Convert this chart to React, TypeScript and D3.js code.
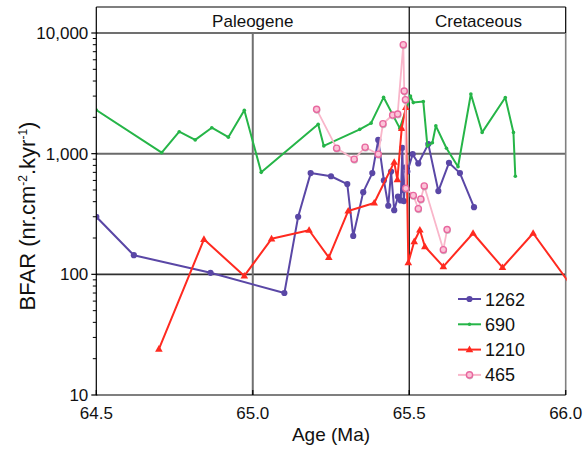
import * as d3 from "d3";

// Site 1262
const ages1262 = [64.5, 64.62, 64.865, 65.101, 65.145, 65.185, 65.25, 65.302, 65.321, 65.353, 65.382, 65.401, 65.419, 65.433, 65.442, 65.452, 65.464, 65.473, 65.478, 65.481, 65.483, 65.489, 65.494, 65.511, 65.529, 65.561, 65.593, 65.627, 65.662, 65.707];
const bfar1262 = [300, 144, 103, 70, 300, 690, 650, 560, 208, 480, 690, 1300, 600, 370, 710, 340, 440, 410, 1120, 500, 405, 770, 710, 990, 830, 1200, 490, 840, 690, 360];

// Site 690
const ages690 = [64.5, 64.709, 64.765, 64.816, 64.869, 64.922, 64.973, 65.027, 65.209, 65.227, 65.342, 65.378, 65.418, 65.47, 65.504, 65.513, 65.545, 65.558, 65.574, 65.585, 65.619, 65.656, 65.697, 65.733, 65.807, 65.833, 65.839];
const bfar690 = [2300, 1020, 1520, 1300, 1640, 1370, 2290, 700, 1750, 1160, 1590, 1790, 2930, 1620, 3000, 2650, 2700, 1160, 1230, 1700, 1110, 780, 3120, 1500, 2920, 1500, 650];

// Site 1210
const ages1210 = [64.7, 64.844, 64.973, 65.06, 65.18, 65.243, 65.305, 65.388, 65.452, 65.462, 65.476, 65.489, 65.497, 65.516, 65.534, 65.55, 65.609, 65.704, 65.798, 65.896, 66.02];
const bfar1210 = [24, 195, 97, 197, 232, 138, 335, 390, 850, 610, 1620, 2420, 125, 187, 233, 170, 116, 219, 114, 219, 79];

// Site 465
const ages465 = [65.204, 65.268, 65.324, 65.359, 65.401, 65.416, 65.447, 65.463, 65.481, 65.484, 65.488, 65.489, 65.513, 65.529, 65.537, 65.548, 65.609, 65.621];
const bfar465 = [2330, 1110, 900, 1130, 990, 1770, 2090, 2130, 8000, 3300, 2800, 516, 450, 350, 420, 540, 160, 235];

const xTicks = [64.5, 65.0, 65.5, 66.0];
const yMajors = [10, 100, 1000, 10000];
const periods = [
  { name: "Paleogene", from: 64.5, to: 65.5 },
  { name: "Cretaceous", from: 65.5, to: 66.0 },
];

const series = [
  { name: "1262", ages: ages1262, vals: bfar1262, color: "#5a47a6", marker: "dot" },
  { name: "690", ages: ages690, vals: bfar690, color: "#26b548", marker: "small" },
  { name: "1210", ages: ages1210, vals: bfar1210, color: "#ff2a20", marker: "tri" },
  { name: "465", ages: ages465, vals: bfar465, color: "#f9b6ca", marker: "ring" },
];

const W = 586;
const H = 454;
const left = 96.3;
const right = 565.7;
const top = 33;
const bottom = 395;
const headTop = 7;

function Marker({ kind, x, y, color }) {
  if (kind === "dot") return <circle cx={x} cy={y} r={3.1} fill={color} />;
  if (kind === "small") return <circle cx={x} cy={y} r={1.8} fill={color} />;
  if (kind === "tri")
    return <path d={`M${x},${y - 4}L${x + 3.8},${y + 2.6}L${x - 3.8},${y + 2.6}Z`} fill={color} />;
  return (
    <g>
      <circle cx={x + 0.4} cy={y + 1.2} r={3.3} fill="#9a9a9a" opacity={0.55} />
      <circle cx={x} cy={y} r={3.1} fill="#fbc4d8" stroke="#e8679f" strokeWidth={1.4} />
    </g>
  );
}

export default function App() {
  const x = d3.scaleLinear().domain([64.5, 66.0]).range([left, right]);
  const y = d3.scaleLog().domain([10, 10000]).range([bottom, top]);
  const line = d3
    .line<[number, number]>()
    .x((d) => x(d[0]))
    .y((d) => y(d[1]));
  const fmt = d3.format(",");
  const minor = y.ticks().filter((v) => !yMajors.includes(v));
  const font = "Liberation Sans, Arial, Helvetica, sans-serif";

  return (
    <svg
      width={W}
      height={H}
      style={{ position: "absolute", left: 0, top: 0, background: "#fff" }}
      fontFamily={font}
    >
      <defs>
        <clipPath id="plot">
          <rect x={left} y={top} width={right - left + 1} height={bottom - top} />
        </clipPath>
      </defs>

      {/* grid */}
      <line x1={left} x2={right} y1={y(10000)} y2={y(10000)} stroke="#707070" strokeWidth={2} />
      <line x1={left} x2={right} y1={y(1000)} y2={y(1000)} stroke="#6a6a6a" strokeWidth={2} />
      <line x1={left} x2={right} y1={y(100)} y2={y(100)} stroke="#303030" strokeWidth={1.6} />
      <line x1={x(65.0)} x2={x(65.0)} y1={top} y2={bottom} stroke="#707070" strokeWidth={2} />
      <line x1={right} x2={right} y1={top} y2={bottom} stroke="#808080" strokeWidth={1.6} />

      {/* header band */}
      <line x1={left} x2={right} y1={headTop} y2={headTop} stroke="#000" strokeWidth={1.2} />
      <line x1={right} x2={right} y1={headTop} y2={top} stroke="#000" strokeWidth={1.2} />
      <line x1={x(65.5)} x2={x(65.5)} y1={headTop} y2={bottom} stroke="#000" strokeWidth={1.2} />
      {periods.map((p) => (
        <text
          key={p.name}
          x={p.name === "Paleogene" ? (x(p.from) + x(p.to)) / 2 : (x(p.from) + x(p.to)) / 2 - 9}
          y={27}
          fontSize={17}
          textAnchor="middle"
          fill="#111"
        >
          {p.name}
        </text>
      ))}

      {/* series */}
      <g clipPath="url(#plot)">
        {series.map((s) => {
          const pts = s.ages.map((a, i) => [a, s.vals[i]] as [number, number]);
          return (
            <g key={s.name}>
              <path d={line(pts) || ""} fill="none" stroke={s.color} strokeWidth={s.marker === "ring" ? 1.8 : 2} strokeLinejoin="round" />
              {pts.map((p, i) => (
                <Marker key={i} kind={s.marker} x={x(p[0])} y={y(p[1])} color={s.color} />
              ))}
            </g>
          );
        })}
      </g>

      {/* axes */}
      <line x1={left} x2={left} y1={headTop} y2={bottom} stroke="#000" strokeWidth={1.2} />
      <line x1={left} x2={right} y1={bottom} y2={bottom} stroke="#000" strokeWidth={1.2} />
      {minor.map((v) => (
        <line key={v} x1={left - 3.5} x2={left} y1={y(v)} y2={y(v)} stroke="#000" strokeWidth={1} />
      ))}
      {yMajors.map((v) => (
        <g key={v}>
          <line x1={left - 5} x2={left + 1} y1={y(v)} y2={y(v)} stroke="#000" strokeWidth={1.2} />
          <text x={left - 8} y={y(v) + 6} fontSize={17} textAnchor="end" fill="#111">
            {fmt(v)}
          </text>
        </g>
      ))}
      {xTicks.map((t) => (
        <g key={t}>
          <line x1={x(t)} x2={x(t)} y1={bottom - 5} y2={bottom} stroke="#000" strokeWidth={1.2} />
          <text x={x(t)} y={419} fontSize={17} textAnchor="middle" fill="#111">
            {t.toFixed(1)}
          </text>
        </g>
      ))}
      <text x={(left + right) / 2} y={441} fontSize={19} textAnchor="middle" fill="#111">
        Age (Ma)
      </text>
      <text transform={`translate(35,216) rotate(-90)`} fontSize={22} textAnchor="middle" fill="#111">
        BFAR (nr.cm
        <tspan fontSize={12} dy={-8}>-2</tspan>
        <tspan dy={8}>.kyr</tspan>
        <tspan fontSize={12} dy={-8}>-1</tspan>
        <tspan dy={8}>)</tspan>
      </text>

      {/* legend */}
      {series.map((s, i) => {
        const ly = 299 + i * 25.3;
        return (
          <g key={s.name}>
            <line x1={458} x2={481} y1={ly} y2={ly} stroke={s.color} strokeWidth={2} />
            <Marker kind={s.marker} x={469.5} y={ly} color={s.color} />
            <text x={485} y={ly + 6.5} fontSize={18} fill="#111">
              {s.name}
            </text>
          </g>
        );
      })}
    </svg>
  );
}
